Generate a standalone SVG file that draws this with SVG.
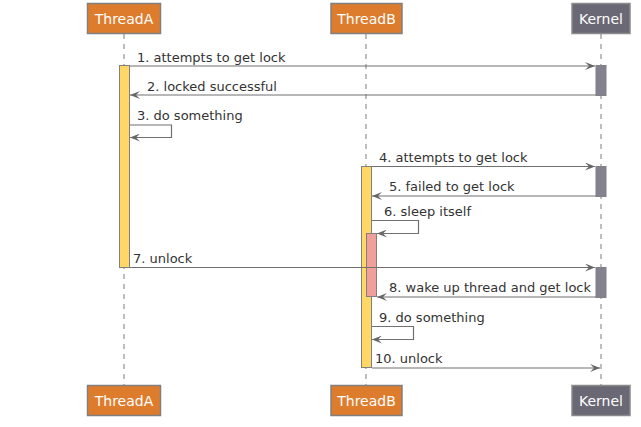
<svg xmlns="http://www.w3.org/2000/svg" width="641" height="427" viewBox="0 0 641 427">
<style>
.life{stroke:#a8a8a8;stroke-width:1.5;stroke-dasharray:5,5;fill:none}
.thread rect{fill:#DD7C2D;stroke:#808080;stroke-width:1.5}
.kern rect{fill:#6B6875;stroke:#8a8a8a;stroke-width:1.5}
.pt{font-family:"DejaVu Sans",sans-serif;font-size:14px;fill:#ffffff;text-anchor:middle}
.actY{fill:#FFD766;stroke:#808080;stroke-width:1}
.actK{fill:#848290;stroke:#808080;stroke-width:1}
.actS{fill:#F0A099;stroke:#808080;stroke-width:1}
.msg{stroke:#707070;stroke-width:1.2;fill:none}
.lbl{font-family:"DejaVu Sans",sans-serif;font-size:13px;fill:#333333}
</style>
<defs>
<marker id="ah" viewBox="0 0 10 8" refX="10" refY="4" markerWidth="10" markerHeight="8" markerUnits="userSpaceOnUse" orient="auto">
<path d="M0,0 L10,4 L0,8 L4,4 Z" fill="#666666"/>
</marker>
</defs>
<g id="lifelines">
<line class="life" x1="124" y1="34" x2="124" y2="385"/>
<line class="life" x1="366" y1="34" x2="366" y2="385"/>
<line class="life" x1="601" y1="34" x2="601" y2="385"/>
</g>
<g id="threadA" class="thread">
<rect x="87.5" y="3.5" width="73" height="30"/>
<text class="pt" x="124" y="23.5">ThreadA</text>
</g>
<g id="threadB" class="thread">
<rect x="331" y="3.5" width="71" height="30"/>
<text class="pt" x="366.5" y="23.5">ThreadB</text>
</g>
<g id="kernel" class="kern">
<rect x="572" y="3.5" width="58" height="30"/>
<text class="pt" x="601" y="23.5">Kernel</text>
</g>
<g id="threadA-bottom" class="thread">
<rect x="87.5" y="385.5" width="73" height="30"/>
<text class="pt" x="124" y="405.5">ThreadA</text>
</g>
<g id="threadB-bottom" class="thread">
<rect x="331" y="385.5" width="71" height="30"/>
<text class="pt" x="366.5" y="405.5">ThreadB</text>
</g>
<g id="kernel-bottom" class="kern">
<rect x="572" y="385.5" width="58" height="30"/>
<text class="pt" x="601" y="405.5">Kernel</text>
</g>
<g id="activations">
<rect class="actY" x="119.5" y="65.5" width="10" height="202"/>
<rect class="actK" x="596" y="65.5" width="10" height="30"/>
<rect class="actK" x="596" y="166.5" width="10" height="30"/>
<rect class="actK" x="596" y="267.5" width="10" height="30"/>
<rect class="actY" x="361.5" y="166.5" width="10" height="201"/>
<rect class="actS" x="366.5" y="233.5" width="10" height="63"/>
</g>
<g id="connectors">
<line class="msg" x1="130" y1="66" x2="595" y2="66" marker-end="url(#ah)"/>
<line class="msg" x1="596" y1="95" x2="130" y2="95" marker-end="url(#ah)"/>
<polyline class="msg" points="130,125 171.5,125 171.5,137.5 130,137.5" marker-end="url(#ah)"/>
<line class="msg" x1="372" y1="166.5" x2="595" y2="166.5" marker-end="url(#ah)"/>
<line class="msg" x1="596" y1="196" x2="372" y2="196" marker-end="url(#ah)"/>
<polyline class="msg" points="372,220.5 418.5,220.5 418.5,233.5 377,233.5" marker-end="url(#ah)"/>
<line class="msg" x1="130" y1="267.5" x2="595" y2="267.5" marker-end="url(#ah)"/>
<line class="msg" x1="596" y1="297" x2="377" y2="297" marker-end="url(#ah)"/>
<polyline class="msg" points="372,326.5 413.5,326.5 413.5,339.5 372,339.5" marker-end="url(#ah)"/>
<line class="msg" x1="372" y1="368" x2="600" y2="368" marker-end="url(#ah)"/>
</g>
<g id="labels">
<text class="lbl" x="137" y="61.5">1. attempts to get lock</text>
<text class="lbl" x="147" y="90.5">2. locked successful</text>
<text class="lbl" x="137" y="120">3. do something</text>
<text class="lbl" x="379" y="162">4. attempts to get lock</text>
<text class="lbl" x="389" y="191">5. failed to get lock</text>
<text class="lbl" x="384" y="216">6. sleep itself</text>
<text class="lbl" x="133" y="263">7. unlock</text>
<text class="lbl" x="389" y="292">8. wake up thread and get lock</text>
<text class="lbl" x="379" y="322">9. do something</text>
<text class="lbl" x="375" y="363">10. unlock</text>
</g>
</svg>
